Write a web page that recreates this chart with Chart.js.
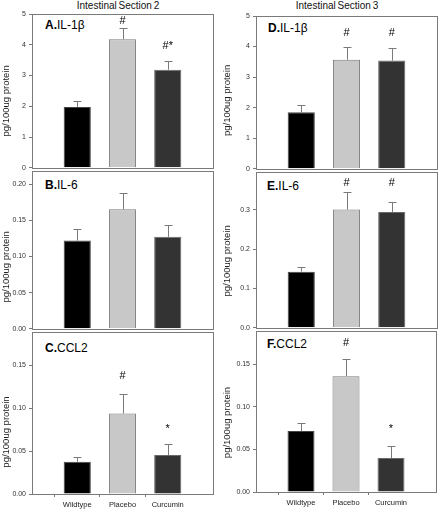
<!DOCTYPE html>
<html><head><meta charset="utf-8">
<script src="https://cdn.jsdelivr.net/npm/chart.js@4/dist/chart.umd.min.js"></script>
<style>
html,body{margin:0;padding:0;background:#fff;}
body{width:439px;height:511px;position:relative;overflow:hidden;font-family:"Liberation Sans",Arial,sans-serif;}
canvas{position:absolute;}
.ttl{position:absolute;top:1px;font-size:10px;line-height:10px;color:#111;white-space:nowrap;transform:translateX(-50%);word-spacing:-1px;}
.lbl{position:absolute;font-size:12px;line-height:12px;color:#000;white-space:nowrap;}
</style></head><body>
<div class="ttl" style="left:118px">Intestinal Section 2</div>
<div class="ttl" style="left:337px">Intestinal Section 3</div>
<div class="lbl" style="left:45px;top:19px"><b>A.</b>IL-1β</div>
<div class="lbl" style="left:45px;top:179px"><b>B.</b>IL-6</div>
<div class="lbl" style="left:45px;top:342px"><b>C.</b>CCL2</div>
<div class="lbl" style="left:268px;top:22px"><b>D.</b>IL-1β</div>
<div class="lbl" style="left:267px;top:180px"><b>E.</b>IL-6</div>
<div class="lbl" style="left:267px;top:338px"><b>F.</b>CCL2</div>
<script>
// ---- data ----
const categories = ['Wildtype', 'Placebo', 'Curcumin'];
const yTitle = 'pg/100ug protein';

const il1bS2 = [1.98, 4.18, 3.19];
const il1bS2Err = [0.18, 0.37, 0.28];
const il1bS2Marks = ['', '#', '#*'];
const il1bS2MarkAt = [0, 4.67, 3.87];

const il6S2 = [0.122, 0.165, 0.127];
const il6S2Err = [0.016, 0.023, 0.017];
const il6S2Marks = ['', '', ''];
const il6S2MarkAt = [0, 0, 0];

const ccl2S2 = [0.0376, 0.0938, 0.0453];
const ccl2S2Err = [0.0051, 0.0228, 0.0127];
const ccl2S2Marks = ['', '#', '*'];
const ccl2S2MarkAt = [0, 0.1334, 0.072];

const il1bS3 = [1.85, 3.57, 3.54];
const il1bS3Err = [0.25, 0.42, 0.42];
const il1bS3Marks = ['', '#', '#'];
const il1bS3MarkAt = [0, 4.33, 4.33];

const il6S3 = [0.1425, 0.300, 0.294];
const il6S3Err = [0.0125, 0.045, 0.026];
const il6S3Marks = ['', '#', '#'];
const il6S3MarkAt = [0, 0.36, 0.36];

const ccl2S3 = [0.0714, 0.1358, 0.0398];
const ccl2S3Err = [0.0089, 0.0202, 0.0141];
const ccl2S3Marks = ['', '#', '*'];
const ccl2S3MarkAt = [0, 0.1717, 0.0706];

const ticksIL1b = [0, 1, 2, 3, 4, 5];
const ticksIL6S2 = [0, 0.05, 0.10, 0.15, 0.20];
const ticksIL6S3 = [0, 0.1, 0.2, 0.3];
const ticksCCL2 = [0, 0.05, 0.10, 0.15];

// ---- layout / style ----
const barColors = ['#000000', '#c8c8c8', '#333333'];
const barBorders = ['#444444', '#7a7a7a', '#6a6a6a'];
const frameColor = '#7a7a7a';
const cols = [
  {left: 0, width: 220, frameLeft: 32, frameRight: 213, titleX: 6.7},
  {left: 220, width: 219, frameLeft: 256, frameRight: 437, titleX: 227.3}
];
const panels = [
  {col: 0, top: 14, bottom: 171, max: 5, ticks: ticksIL1b, dec: 0, v: il1bS2, e: il1bS2Err, m: il1bS2Marks, mAt: il1bS2MarkAt, shift: 10, xlab: false},
  {col: 0, top: 171, bottom: 332, max: 0.218, ticks: ticksIL6S2, dec: 2, v: il6S2, e: il6S2Err, m: il6S2Marks, mAt: il6S2MarkAt, shift: 17, xlab: false},
  {col: 0, top: 332, bottom: 494, max: 0.1887, ticks: ticksCCL2, dec: 2, v: ccl2S2, e: ccl2S2Err, m: ccl2S2Marks, mAt: ccl2S2MarkAt, shift: 19, xlab: true},
  {col: 1, top: 16, bottom: 172, max: 5, ticks: ticksIL1b, dec: 0, v: il1bS3, e: il1bS3Err, m: il1bS3Marks, mAt: il1bS3MarkAt, shift: 8, xlab: false},
  {col: 1, top: 172, bottom: 331, max: 0.3955, ticks: ticksIL6S3, dec: 1, v: il6S3, e: il6S3Err, m: il6S3Marks, mAt: il6S3MarkAt, shift: 11, xlab: false},
  {col: 1, top: 331, bottom: 492, max: 0.1887, ticks: ticksCCL2, dec: 2, v: ccl2S3, e: ccl2S3Err, m: ccl2S3Marks, mAt: ccl2S3MarkAt, shift: 11, xlab: true}
];

const FONT = '"Liberation Sans", Arial, sans-serif';

const overlay = {
  id: 'overlay',
  afterDatasetsDraw(chart) {
    const p = chart.options.plugins.overlay.panel;
    const c = cols[p.col];
    const {ctx, chartArea: a} = chart;
    const y = chart.scales.y;
    const meta = chart.getDatasetMeta(0);
    ctx.save();
    // error bars (upper only)
    ctx.strokeStyle = '#7a7a7a';
    ctx.lineWidth = 1;
    p.v.forEach((val, i) => {
      const bar = meta.data[i + 1];
      const xc = Math.round(bar.x) + 0.5;
      const y0 = y.getPixelForValue(val);
      const y1 = Math.round(y.getPixelForValue(val + p.e[i])) + 0.5;
      ctx.beginPath();
      ctx.moveTo(xc, y0);
      ctx.lineTo(xc, y1);
      ctx.moveTo(xc - 4, y1);
      ctx.lineTo(xc + 4, y1);
      ctx.stroke();
    });
    // significance marks
    ctx.fillStyle = '#000';
    ctx.font = '11px ' + FONT;
    ctx.textAlign = 'center';
    ctx.textBaseline = 'alphabetic';
    p.m.forEach((mk, i) => {
      if (!mk) return;
      const bar = meta.data[i + 1];
      ctx.fillText(mk, bar.x, y.getPixelForValue(p.mAt[i]));
    });
    // frame
    ctx.strokeStyle = frameColor;
    ctx.strokeRect(Math.round(a.left) + 0.5, Math.round(a.top) + 0.5, Math.round(a.right) - Math.round(a.left), Math.round(a.bottom) - Math.round(a.top));
    // y title
    ctx.fillStyle = '#222';
    ctx.font = '9.5px ' + FONT;
    ctx.textBaseline = 'middle';
    ctx.translate(c.titleX - c.left, (a.top + a.bottom) / 2 + p.shift);
    ctx.rotate(-Math.PI / 2);
    ctx.fillText(yTitle, 0, 0);
    ctx.restore();
  }
};

panels.forEach(p => {
  const c = cols[p.col];
  const canvasTop = Math.max(0, p.top - 12);
  const padT = p.top - canvasTop;
  const xh = p.xlab ? 20 : 0;
  const plotH = p.bottom - p.top;
  const H = padT + plotH + xh + 4;
  const cv = document.createElement('canvas');
  cv.width = c.width; cv.height = H;
  cv.style.left = c.left + 'px'; cv.style.top = canvasTop + 'px';
  cv.style.width = c.width + 'px'; cv.style.height = H + 'px';
  document.body.appendChild(cv);
  const yw = c.frameLeft - c.left;
  const padR = c.width - (c.frameRight - c.left);
  new Chart(cv, {
    type: 'bar',
    data: {
      labels: ['', ...categories, ''],
      datasets: [{
        data: [null, ...p.v, null],
        backgroundColor: ['#000', ...barColors, '#000'],
        borderColor: ['#000', ...barBorders, '#000'],
        borderWidth: 1,
        barPercentage: 0.6,
        categoryPercentage: 1
      }]
    },
    options: {
      responsive: false, animation: false, devicePixelRatio: 1,
      layout: {padding: {top: padT, right: padR, bottom: 4, left: 0}},
      plugins: {legend: {display: false}, tooltip: {enabled: false}, overlay: {panel: p}},
      scales: {
        x: {
          type: 'category', offset: false,
          grid: {display: true, drawOnChartArea: false, drawTicks: p.xlab, tickLength: 3,
                 color: frameColor,
                 tickColor: ctx => (ctx.index === 0 || ctx.index === 4) ? 'rgba(0,0,0,0)' : frameColor},
          border: {display: false},
          ticks: {display: p.xlab, autoSkip: false, maxRotation: 0, minRotation: 0, padding: 3,
                  font: {family: FONT, size: 7.5}, color: '#222'},
          afterFit: s => { s.height = xh; }
        },
        y: {
          min: 0, max: p.max,
          grid: {display: true, drawOnChartArea: false, drawTicks: true, tickLength: 3, color: frameColor},
          border: {display: false},
          ticks: {padding: 3, font: {family: FONT, size: 7}, color: '#333',
                  callback: v => Number(v).toFixed(p.dec)},
          afterBuildTicks: s => { s.ticks = p.ticks.map(v => ({value: v})); },
          afterFit: s => { s.width = yw; }
        }
      }
    },
    plugins: [overlay]
  });
});
</script>
</body></html>
